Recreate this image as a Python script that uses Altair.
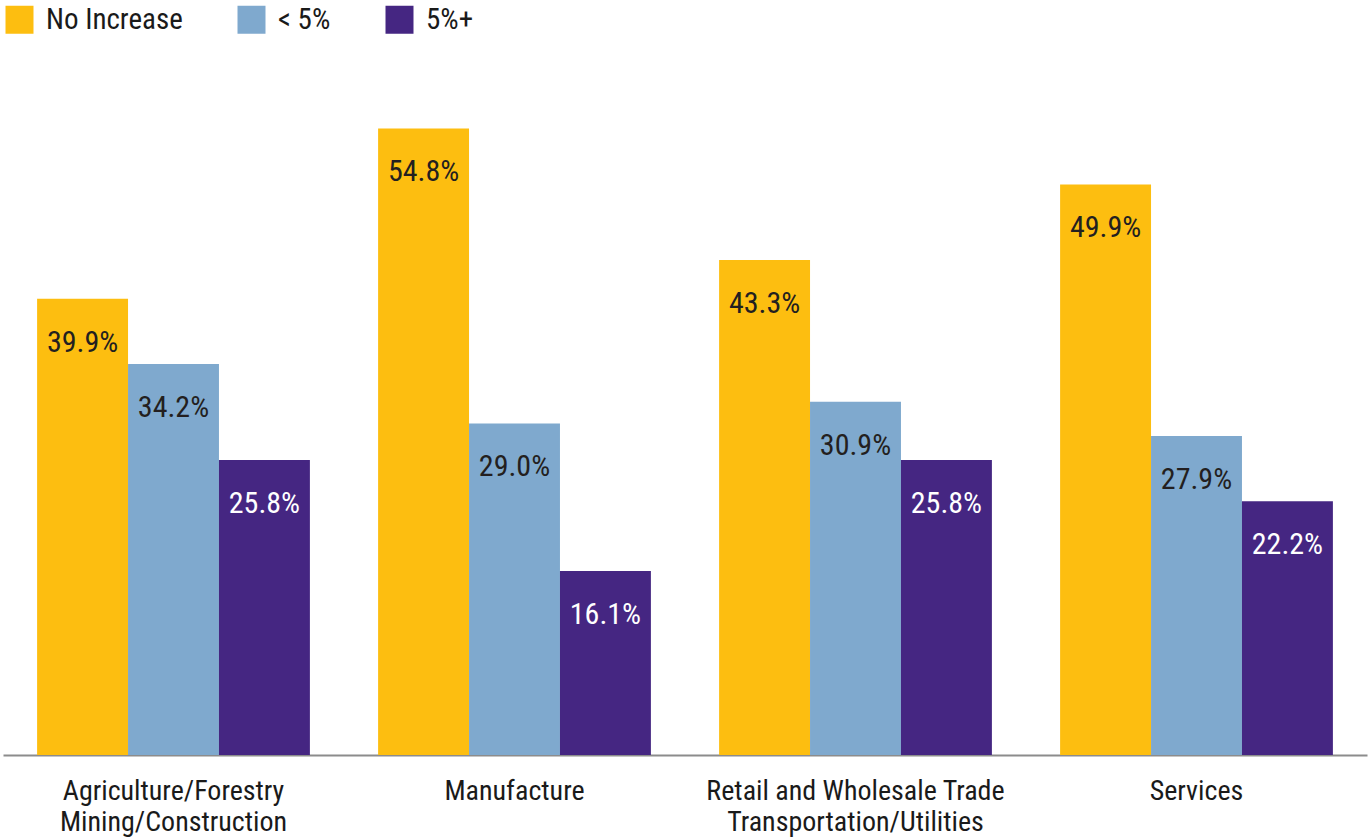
import altair as alt
import pandas as pd

categories = ["Agriculture/Forestry|Mining/Construction", "Manufacture",
              "Retail and Wholesale Trade|Transportation/Utilities", "Services"]
series = ["No Increase", "< 5%", "5%+"]
no_increase = [39.9, 54.8, 43.3, 49.9]
under_5 = [34.2, 29.0, 30.9, 27.9]
five_plus = [25.8, 16.1, 25.8, 22.2]
colors = ["#FDBE10", "#7FA9CE", "#452682"]
text_colors = ["#231f20", "#231f20", "#ffffff"]

rows = []
for s, vals, tc in zip(series, [no_increase, under_5, five_plus], text_colors):
    for c, v in zip(categories, vals):
        rows.append({"category": c, "series": s, "value": v,
                     "label": f"{v:.1f}%", "tc": tc})
df = pd.DataFrame(rows)

FONT = "Liberation Sans Narrow, Roboto Condensed, Arial Narrow, Roboto, sans-serif"

x = alt.X("category:N", sort=categories, title=None,
          scale=alt.Scale(paddingInner=0.2, paddingOuter=0.1),
          axis=alt.Axis(labelExpr="split(datum.value, '|')", labelAngle=0,
                        labelFontSize=28, labelFont=FONT, labelColor="#1a1a1a",
                        labelLineHeight=31, labelPadding=22, labelBaseline="top",
                        labelLimit=0, ticks=False, domainColor="#8c8c8c",
                        domainWidth=2, grid=False))
xo = alt.XOffset("series:N", sort=series)
y = alt.Y("value:Q", scale=alt.Scale(domain=[0, 60]), axis=None)

bars = alt.Chart(df).mark_bar().encode(
    x=x, xOffset=xo, y=y,
    color=alt.Color("series:N", sort=series,
                    scale=alt.Scale(domain=series, range=colors),
                    legend=alt.Legend(orient="none", legendX=2, legendY=-64,
                                      direction="horizontal", title=None,
                                      symbolType="square", symbolSize=784,
                                      symbolStrokeWidth=0, symbolOpacity=1,
                                      labelFont=FONT, labelFontSize=29,
                                      labelColor="#1a1a1a", labelOffset=12,
                                      columnPadding=54, padding=0)),
)

labels = alt.Chart(df).mark_text(baseline="middle", dy=44, font=FONT,
                                 fontSize=30).encode(
    x=x, xOffset=xo, y=y, text="label:N",
    color=alt.Color("tc:N", scale=None),
)

chart = alt.layer(bars, labels).properties(
    width=1364, height=686,
    autosize=alt.AutoSizeParams(type="none"),
    padding={"left": 3, "top": 69, "right": 3, "bottom": 83},
).configure(background="white").configure_view(stroke=None)

chart.save("out.html", embed_options={"renderer": "svg", "actions": False})
